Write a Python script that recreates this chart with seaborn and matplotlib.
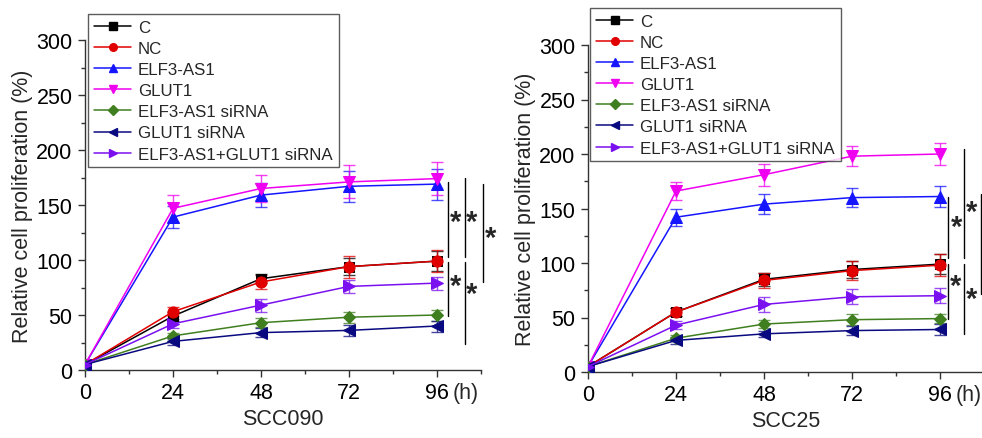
import pandas as pd
import seaborn as sns
import matplotlib.pyplot as plt
from matplotlib.lines import Line2D
from matplotlib.ticker import MultipleLocator

# time points (h)
hours = [0, 24, 48, 72, 96]
groups = ['C', 'NC', 'ELF3-AS1', 'GLUT1', 'ELF3-AS1 siRNA', 'GLUT1 siRNA', 'ELF3-AS1+GLUT1 siRNA']

# SCC090 means / sd
scc090_mean = {
    'C': [5, 49, 83, 94, 99],
    'NC': [5, 53, 80, 94, 99],
    'ELF3-AS1': [5, 139, 159, 167, 169],
    'GLUT1': [5, 147, 165, 171, 174],
    'ELF3-AS1 siRNA': [5, 31, 43, 48, 50],
    'GLUT1 siRNA': [5, 26, 34, 36, 40],
    'ELF3-AS1+GLUT1 siRNA': [5, 42, 59, 76, 79],
}
scc090_sd = {
    'C': [2, 4, 4, 8, 9],
    'NC': [2, 4, 6, 10, 10],
    'ELF3-AS1': [2, 10, 11, 14, 14],
    'GLUT1': [2, 12, 12, 15, 15],
    'ELF3-AS1 siRNA': [1, 3, 4, 5, 5],
    'GLUT1 siRNA': [1, 3, 4, 5, 5],
    'ELF3-AS1+GLUT1 siRNA': [1, 4, 6, 6, 6],
}

# SCC25 means / sd
scc25_mean = {
    'C': [5, 55, 85, 94, 99],
    'NC': [5, 55, 84, 93, 98],
    'ELF3-AS1': [5, 142, 154, 160, 161],
    'GLUT1': [5, 166, 181, 198, 200],
    'ELF3-AS1 siRNA': [5, 31, 44, 48, 49],
    'GLUT1 siRNA': [5, 29, 35, 38, 39],
    'ELF3-AS1+GLUT1 siRNA': [5, 43, 62, 69, 70],
}
scc25_sd = {
    'C': [2, 4, 6, 8, 9],
    'NC': [2, 4, 7, 9, 10],
    'ELF3-AS1': [2, 8, 9, 9, 10],
    'GLUT1': [2, 8, 10, 9, 10],
    'ELF3-AS1 siRNA': [1, 3, 4, 5, 4],
    'GLUT1 siRNA': [1, 3, 3, 4, 5],
    'ELF3-AS1+GLUT1 siRNA': [1, 4, 7, 7, 7],
}

# significance brackets (x, y_start, y_end) and stars (x, y)
scc090_lines = [(99, 103, 171), (99, 49, 98), (103.6, 103, 175), (103.6, 24, 98), (108.6, 80, 169)]
scc090_stars = [(101.0, 135), (105.4, 135), (110.6, 120), (101.0, 76), (105.4, 69)]
scc25_lines = [(98.2, 105, 161), (98.2, 49, 99), (102.5, 105, 205), (102.5, 35, 99), (107.2, 72, 163)]
scc25_stars = [(100.4, 133), (104.7, 147), (100.2, 79), (104.7, 67)]

colors = {
    'C': '#000000',
    'NC': '#e00000',
    'ELF3-AS1': '#1515ff',
    'GLUT1': '#f000f0',
    'ELF3-AS1 siRNA': '#3f7f1f',
    'GLUT1 siRNA': '#0a0a80',
    'ELF3-AS1+GLUT1 siRNA': '#7a10f0',
}
markers = {
    'C': 's', 'NC': 'o', 'ELF3-AS1': '^', 'GLUT1': 'v',
    'ELF3-AS1 siRNA': 'D', 'GLUT1 siRNA': '<', 'ELF3-AS1+GLUT1 siRNA': '>',
}
msizes = {'C': 7, 'NC': 8, 'ELF3-AS1': 8, 'GLUT1': 8, 'ELF3-AS1 siRNA': 6.5,
          'GLUT1 siRNA': 8, 'ELF3-AS1+GLUT1 siRNA': 8}

sns.set_style('ticks')
plt.rcParams['font.family'] = ['Liberation Sans', 'DejaVu Sans']


def to_long(means, sds):
    rows = []
    for g in groups:
        for t, m, s in zip(hours, means[g], sds[g]):
            rows.append({'time': t, 'value': m, 'sd': s, 'group': g})
    return pd.DataFrame(rows)


def draw_panel(ax, df, name, lines, stars):
    for g in groups:
        sub = df[df['group'] == g]
        ax.errorbar(sub['time'], sub['value'], yerr=sub['sd'], fmt='none',
                    ecolor=colors[g], elinewidth=1, capsize=4, capthick=1, alpha=0.75, zorder=2)
        sns.lineplot(data=sub, x='time', y='value', color=colors[g], marker=markers[g],
                     markersize=msizes[g], markeredgecolor=colors[g], linewidth=1.1,
                     ax=ax, legend=False, zorder=3)
    ax.set_xlim(0, 108)
    ax.set_ylim(0, 300)
    ax.set_xticks(hours)
    ax.set_yticks(range(0, 301, 50))
    ax.xaxis.set_minor_locator(MultipleLocator(12))
    ax.yaxis.set_minor_locator(MultipleLocator(25))
    ax.tick_params(which='major', direction='out', length=5, width=1, labelsize=15.5, colors='#333333',
                   labelcolor='black', pad=4)
    ax.tick_params(which='minor', direction='out', length=3, width=1, colors='#333333')
    for s in ['top', 'right']:
        ax.spines[s].set_visible(False)
    for s in ['left', 'bottom']:
        ax.spines[s].set_color('#333333')
        ax.spines[s].set_linewidth(1)
    ax.set_xlabel(name, fontsize=15.5, labelpad=3)
    ax.set_ylabel('Relative cell proliferation (%)', fontsize=15.5, labelpad=2)
    ax.annotate('(h)', xy=(96, 0), xycoords=('data', 'axes fraction'), xytext=(21, -9),
                textcoords='offset points', ha='center', va='top', fontsize=15.5)
    for x, y0, y1 in lines:
        ax.plot([x, x], [y0, y1], color='black', lw=1, clip_on=False)
    for x, y in stars:
        ax.text(x, y, '*', fontsize=21, fontweight='bold', ha='center', va='center', clip_on=False)


fig = plt.figure(figsize=(9.82, 4.39), dpi=100)
W, H = 982, 439
ax1 = fig.add_axes([85 / W, 68 / H, 396 / W, 330 / H])
ax2 = fig.add_axes([588 / W, 66 / H, 396 / W, 327 / H])

draw_panel(ax1, to_long(scc090_mean, scc090_sd), 'SCC090', scc090_lines, scc090_stars)
draw_panel(ax2, to_long(scc25_mean, scc25_sd), 'SCC25', scc25_lines, scc25_stars)

handles = [Line2D([0], [0], color=colors[g], marker=markers[g], markersize=5.5, lw=1.1,
                  markeredgecolor=colors[g]) for g in groups]
for x0, y0 in [(88, 15), (590, 9)]:
    leg = fig.legend(handles, groups, loc='upper left', bbox_to_anchor=(x0 / W, 1 - y0 / H),
                     fontsize=12.2, frameon=True, fancybox=False, borderaxespad=0,
                     labelspacing=0.36, handlelength=2.2, handletextpad=0.4, borderpad=0.35)
    leg.get_frame().set_edgecolor('#333333')
    leg.get_frame().set_linewidth(1)

fig.savefig('out.png', dpi=100)
